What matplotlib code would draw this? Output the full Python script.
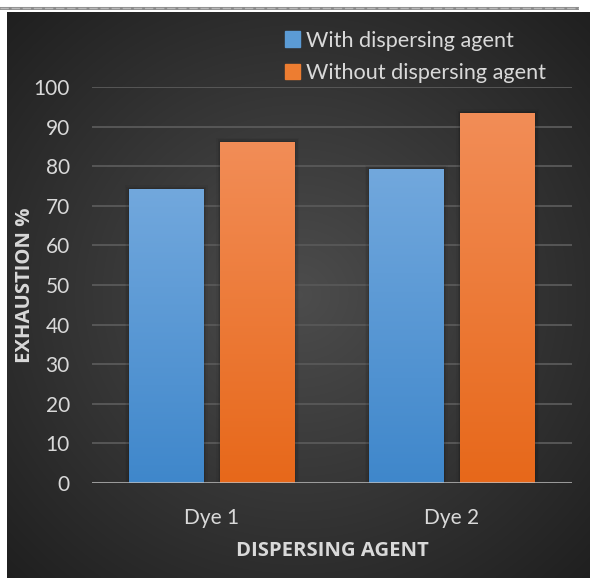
import numpy as np
import matplotlib.pyplot as plt
from matplotlib.colors import LinearSegmentedColormap
from matplotlib.patches import Rectangle

plt.rcParams['font.family'] = ['Lato', 'DejaVu Sans']

dyes = ['Dye 1', 'Dye 2']
with_agent = [74.2, 79.3]
without_agent = [86.1, 93.4]
series_names = ['With dispersing agent', 'Without dispersing agent']
yticks = [0, 10, 20, 30, 40, 50, 60, 70, 80, 90, 100]

text_col = '#d9d9d9'
blue_grad = LinearSegmentedColormap.from_list('b', ['#3f87cb', '#72a8dd'])
orange_grad = LinearSegmentedColormap.from_list('o', ['#e7681a', '#f28d57'])

fig = plt.figure(figsize=(5.9, 5.78), dpi=100)
fig.patch.set_facecolor('white')

# dark panel with a soft radial glow
bg = fig.add_axes([7 / 590, 0, 583 / 590, 566 / 578])
yy, xx = np.mgrid[0:1:300j, 0:1:300j]
r = np.sqrt((xx - 0.5) ** 2 + (yy - 0.5) ** 2)
shade = 0.30 - 0.18 * np.clip(r / 0.72, 0, 1)
bg.imshow(np.dstack([shade, shade, shade]), extent=[0, 1, 0, 1],
          aspect='auto', interpolation='bicubic')
bg.set_axis_off()

# thin grey rule along the top
rule = fig.add_axes([0, 568 / 578, 579 / 590, 4 / 578])
rule.axhline(0.5, color='#8c8c8c', lw=2.2)
rule.axhline(0.5, color='#b8b8b8', lw=1, ls=(0, (6, 2)))
rule.set_xlim(0, 1)
rule.set_ylim(0, 1)
rule.set_axis_off()

ax = fig.add_axes([92 / 590, 95 / 578, 480 / 590, 396 / 578])
ax.set_facecolor('none')
ax.set_xlim(-0.5, 1.5)
ax.set_ylim(0, 100)

x = np.arange(len(dyes))
width = 0.31
offset = 0.19

grad = np.linspace(0, 1, 256).reshape(-1, 1)
for vals, sign, cmap in [(with_agent, -1, blue_grad), (without_agent, 1, orange_grad)]:
    bars = ax.bar(x + sign * offset, vals, width, color='none', zorder=3)
    for b in bars:
        x0, w, h = b.get_x(), b.get_width(), b.get_height()
        # drop shadow
        for k, a in enumerate([0.10, 0.07, 0.04]):
            d = 0.006 * (k + 1)
            ax.add_patch(Rectangle((x0 - d, 0), w + 2 * d, h + d * 55,
                                   color='black', alpha=a, lw=0, zorder=2))
        img = ax.imshow(grad, cmap=cmap, extent=[x0, x0 + w, 0, h],
                        origin='lower', aspect='auto', zorder=3)
        img.set_clip_path(b)

for t in yticks[1:]:
    ax.axhline(t, color='#575757', lw=1.4, zorder=1)
ax.axhline(0, color='#bfbfbf', lw=2.2, alpha=0.75, zorder=4)

for s in ax.spines.values():
    s.set_visible(False)
ax.set_yticks(yticks)
ax.set_xticks(x)
ax.set_xticklabels(dyes)
ax.tick_params(length=0, colors=text_col, labelsize=15)
ax.tick_params(axis='y', pad=16)
ax.tick_params(axis='x', pad=18)

title_font = dict(color=text_col, fontsize=14.6, fontweight='bold', family='Open Sans')
ax.set_ylabel('EXHAUSTION %', **title_font)
ax.yaxis.set_label_coords(-0.118, 0.5)
ax.set_xlabel('DISPERSING AGENT', labelpad=9, **title_font)

handles = [Rectangle((0, 0), 1, 1, color='#5b9bd5'), Rectangle((0, 0), 1, 1, color='#ed7d31')]
leg = fig.legend(handles, series_names, loc='upper left', bbox_to_anchor=(276 / 590, 1 - 22 / 578),
                 frameon=False, fontsize=15.6, labelcolor=text_col, handlelength=0.7,
                 handleheight=0.7, handletextpad=0.3, labelspacing=0.57, borderaxespad=0)

fig.savefig('out.png', dpi=100)
